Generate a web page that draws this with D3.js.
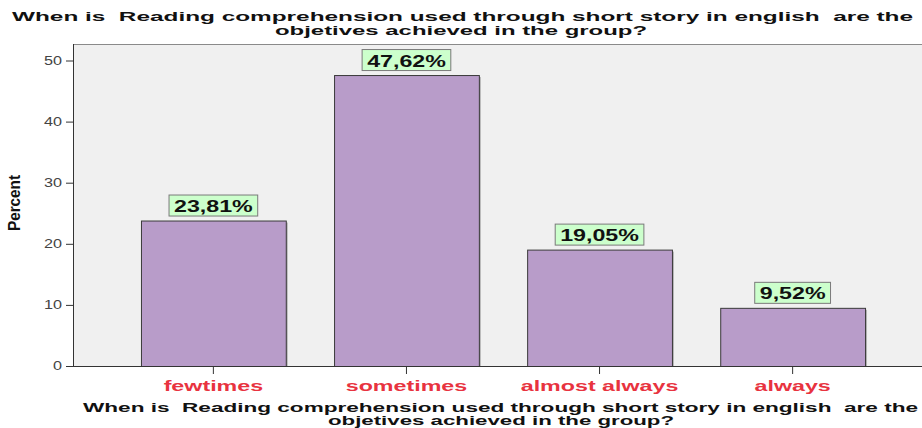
<!DOCTYPE html>
<html>
<head>
<meta charset="utf-8">
<script src="https://cdn.jsdelivr.net/npm/d3@7"></script>
<style>
  body { margin: 0; background: #fff; }
  svg { display: block; font-family: "Liberation Sans", Arial, sans-serif; }
  text { white-space: pre; }
</style>
</head>
<body>
<svg id="chart" width="922" height="428"></svg>
<script>
(function() {
    // data
    var categories = ["fewtimes", "sometimes", "almost always", "always"];
    var percents = [23.81, 47.62, 19.05, 9.52];
    var valueLabels = ["23,81%", "47,62%", "19,05%", "9,52%"];
    var yTicks = [0, 10, 20, 30, 40, 50];
    var titleLines = ["When is  Reading comprehension used through short story in english  are the",
                      "objetives achieved in the group?"];

    var width = 922, height = 428;
    var left = 73, top = 44, bottom = 366;

    const svg = d3.select("#chart");

    // SPSS fonts look wider than Liberation Sans, stretch text a bit
    function widen(sel, k) {
        sel.each(function() {
            var w = this.getComputedTextLength();
            d3.select(this).attr("textLength", w * k).attr("lengthAdjust", "spacingAndGlyphs");
        });
    }

    var x = d3.scaleBand()
        .domain(categories)
        .range([left, 933])
        .paddingInner(0.25)
        .paddingOuter(0.352);

    var y = d3.scaleLinear()
        .domain([0, 50])
        .range([bottom, bottom - 50 * 6.11]);

    // plot background
    svg.append("rect")
        .attr("x", left).attr("y", top)
        .attr("width", width - left).attr("height", bottom - top)
        .attr("fill", "#f0f0f0");
    svg.append("line")
        .attr("x1", left).attr("x2", width)
        .attr("y1", top + 0.5).attr("y2", top + 0.5)
        .attr("stroke", "#8a8a8a");

    // top title
    var tt = [ {t: titleLines[0], x: 12, y: 21, w: 901}, {t: titleLines[1], x: 275, y: 35, w: 372} ];
    svg.selectAll(".title").data(tt).enter().append("text")
        .attr("x", d => d.x).attr("y", d => d.y)
        .attr("textLength", d => d.w).attr("lengthAdjust", "spacingAndGlyphs")
        .style("font-size", "13px").style("font-weight", "bold").style("fill", "#111")
        .text(d => d.t);

    // bottom title
    var bt = [ {t: titleLines[0], x: 83, y: 412, w: 835}, {t: titleLines[1], x: 328, y: 425, w: 346} ];
    svg.selectAll(".xtitle").data(bt).enter().append("text")
        .attr("x", d => d.x).attr("y", d => d.y)
        .attr("textLength", d => d.w).attr("lengthAdjust", "spacingAndGlyphs")
        .style("font-size", "12px").style("font-weight", "bold").style("fill", "#111")
        .text(d => d.t);

    // bars with a soft shadow on the right
    var rows = categories.map((c, i) => ({cat: c, val: percents[i], lab: valueLabels[i]}));

    svg.append("g").selectAll("rect").data(rows).enter().append("rect")
        .attr("x", d => x(d.cat) + 2).attr("y", d => y(d.val) + 2)
        .attr("width", x.bandwidth()).attr("height", d => bottom - y(d.val) - 2)
        .attr("fill", "#b5b5b5");

    svg.append("g").selectAll("rect").data(rows).enter().append("rect")
        .attr("x", d => x(d.cat) + 0.5).attr("y", d => y(d.val) + 0.5)
        .attr("width", x.bandwidth()).attr("height", d => bottom - y(d.val))
        .attr("fill", "#b89cc9")
        .attr("stroke", "#3a3a3a").attr("stroke-width", 1);

    // value label boxes
    var lab = svg.append("g").selectAll("g").data(rows).enter().append("g")
        .attr("transform", d => `translate(${x(d.cat) + x.bandwidth() / 2}, ${y(d.val) - 4})`);
    lab.append("text")
        .attr("text-anchor", "middle").attr("y", -4.5)
        .style("font-size", "16px").style("font-weight", "bold").style("fill", "#111")
        .text(d => d.lab)
        .call(widen, 1.45)
        .each(function() {
            var w = +d3.select(this).attr("textLength");
            d3.select(this.parentNode).insert("rect", "text")
                .attr("x", -w / 2 - 5).attr("y", -21.5)
                .attr("width", w + 10).attr("height", 21)
                .attr("fill", "#ccffcc").attr("stroke", "#7a7a7a");
        });

    // axes
    var yAxis = svg.append("g")
        .attr("transform", `translate(${left},0)`)
        .call(d3.axisLeft(y).tickValues(yTicks).tickSize(7).tickPadding(4));
    yAxis.select(".domain").remove();
    yAxis.append("line").attr("x1", 0.5).attr("x2", 0.5).attr("y1", top).attr("y2", bottom)
        .attr("stroke", "#333");
    yAxis.selectAll("line").attr("stroke", "#333");
    yAxis.selectAll(".tick text").style("font-size", "12px").style("fill", "#444")
        .style("font-family", "Liberation Sans, Arial, sans-serif")
        .call(widen, 1.35);

    var xAxis = svg.append("g")
        .attr("transform", `translate(0,${bottom})`)
        .call(d3.axisBottom(x).tickSize(8).tickPadding(6));
    xAxis.select(".domain").remove();
    xAxis.append("line").attr("x1", left).attr("x2", width).attr("y1", 0.5).attr("y2", 0.5)
        .attr("stroke", "#333");
    xAxis.selectAll(".tick line").attr("stroke", "#333");
    xAxis.selectAll(".tick text")
        .style("font-size", "15.5px").style("font-weight", "bold").style("fill", "#e8333f")
        .style("font-family", "Liberation Sans, Arial, sans-serif")
        .call(widen, 1.5);

    // y axis title, tall and condensed like the original
    svg.append("text")
        .attr("transform", "translate(20, 203) rotate(-90)")
        .attr("text-anchor", "middle")
        .attr("textLength", 56).attr("lengthAdjust", "spacingAndGlyphs")
        .style("font-size", "16px").style("font-weight", "bold").style("fill", "#111")
        .text("Percent");
})();
</script>
</body>
</html>
